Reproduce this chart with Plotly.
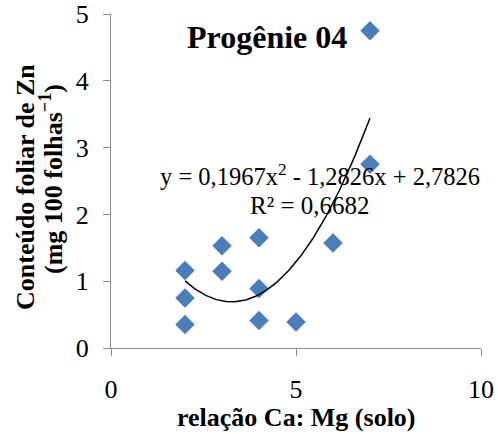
import numpy as np
import plotly.graph_objects as go

# Data
ca_mg_ratio = [2, 2, 2, 3, 3, 4, 4, 4, 5, 6, 7, 7]
zn_content = [1.16, 0.75, 0.35, 1.53, 1.15, 1.65, 0.89, 0.41, 0.39, 1.57, 4.75, 2.75]

# Polynomial trendline coefficients (as printed on chart): a*x^2 + b*x + c
trend_coefs = [0.1967, -1.2826, 2.7826]
trend_range = [2, 7]

x_ticks = [0, 5, 10]
y_ticks = [0, 1, 2, 3, 4, 5]

title_text = "Progênie 04"
eq_line1 = "y = 0,1967x<sup>2</sup> - 1,2826x + 2,7826"
eq_line2 = "R² = 0,6682"
x_title = "relação Ca: Mg (solo)"
y_title_1 = "Conteúdo foliar de Zn"
y_title_2 = "(mg 100 folhas<sup>−1</sup>)"

xs = np.linspace(trend_range[0], trend_range[1], 200)
ys = np.polyval(trend_coefs, xs)

FONT = "Liberation Serif"
axis_color = "#8c8c8c"

W, H = 498, 434
ML, MR, MT, MB = 111, 17, 14, 86
pw = W - ML - MR
ph = H - MT - MB


def px(xp, yp):
    """pixel position -> paper coordinates"""
    return (xp - ML) / pw, (H - MB - yp) / ph


fig = go.Figure()
fig.add_trace(go.Scatter(
    x=ca_mg_ratio, y=zn_content, mode="markers",
    marker=dict(symbol="diamond", size=15, color="#4a7ebb", line=dict(width=0)),
    showlegend=False, cliponaxis=False,
))
fig.add_trace(go.Scatter(
    x=xs, y=ys, mode="lines",
    line=dict(color="black", width=1.5),
    showlegend=False,
))

common_axis = dict(
    ticks="outside", ticklen=7, tickcolor=axis_color, tickwidth=1.3,
    showline=True, linecolor=axis_color, linewidth=1.3,
    showgrid=False, zeroline=False, automargin=False,
    tickfont=dict(size=26, family=FONT, color="black"),
)

fig.update_layout(
    width=W, height=H,
    margin=dict(l=ML, r=MR, t=MT, b=MB),
    paper_bgcolor="white", plot_bgcolor="white",
    font=dict(family=FONT, size=26, color="black"),
    xaxis=dict(range=[0, 10], tickvals=x_ticks, ticklabelstandoff=11, **common_axis),
    yaxis=dict(range=[0, 5], tickvals=y_ticks, ticklabelstandoff=9, **common_axis),
)

anns = []
x0, y0 = px(267, 37)
anns.append(dict(text="<b>" + title_text + "</b>", x=x0, y=y0, font=dict(size=32, family=FONT)))
x0, y0 = px(320, 175)
anns.append(dict(text=eq_line1, x=x0, y=y0, font=dict(size=24.5, family=FONT)))
x0, y0 = px(310, 205)
anns.append(dict(text=eq_line2, x=x0, y=y0, font=dict(size=25, family=FONT)))
x0, y0 = px(296, 417)
anns.append(dict(text="<b>" + x_title + "</b>", x=x0, y=y0, font=dict(size=26, family=FONT)))
x0, y0 = px(25, 187)
anns.append(dict(text="<b>" + y_title_1 + "</b>", x=x0, y=y0, textangle=-90, font=dict(size=26, family=FONT)))
x0, y0 = px(52, 179)
anns.append(dict(text="<b>" + y_title_2 + "</b>", x=x0, y=y0, textangle=-90, font=dict(size=26, family=FONT)))

for a in anns:
    a.update(xref="paper", yref="paper", xanchor="center", yanchor="middle", showarrow=False)
fig.update_layout(annotations=anns)

fig.write_html("out.html", config={"displayModeBar": False},
               post_script="document.body.style.margin='0px';")
